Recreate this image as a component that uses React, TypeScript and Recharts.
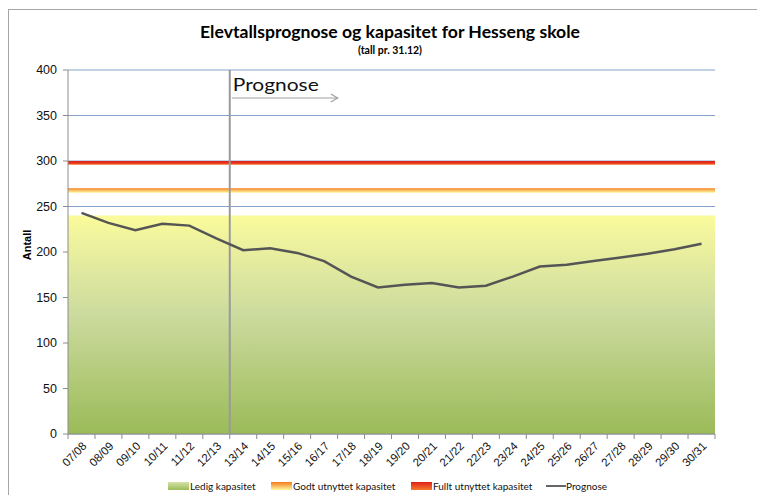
import {
  ComposedChart,
  Line,
  XAxis,
  YAxis,
  CartesianGrid,
  ReferenceArea,
  ReferenceLine,
} from "recharts";

const schoolYears = [
  "07/08", "08/09", "09/10", "10/11", "11/12", "12/13", "13/14", "14/15",
  "15/16", "16/17", "17/18", "18/19", "19/20", "20/21", "21/22", "22/23",
  "23/24", "24/25", "25/26", "26/27", "27/28", "28/29", "29/30", "30/31",
];

const prognose = [
  243, 232, 224, 231, 229, 215, 202, 204, 199, 190, 173, 161,
  164, 166, 161, 163, 173, 184, 186, 190, 194, 198, 203, 209,
];

const yTicks = [0, 50, 100, 150, 200, 250, 300, 350, 400];

// capacity bands [from, to]
const ledigBand = [0, 240];
const godtBand = [265, 270];
const fulltBand = [296, 300];

// first forecast year, the line sits on its left edge
const prognoseStart = "13/14";

const data = schoolYears.map((year, i) => ({ year, prognose: prognose[i] }));

const W = 757;
const H = 495;
const plotLeft = 68;
const plotRight = 715;
const step = (plotRight - plotLeft) / schoolYears.length;

const axisFont = "'Liberation Sans', Arial, sans-serif";
const labelFont = "Lato, 'Open Sans', sans-serif";

function XTick({ x, y, payload, index }: any) {
  const axisY = y - 8;
  return (
    <g>
      <line x1={x - step / 2} x2={x - step / 2} y1={axisY} y2={axisY + 5} stroke="#8c8c8c" />
      {index === schoolYears.length - 1 ? (
        <line x1={x + step / 2} x2={x + step / 2} y1={axisY} y2={axisY + 5} stroke="#8c8c8c" />
      ) : null}
      <text
        x={0}
        y={0}
        transform={`translate(${x + 3},${y + 2}) rotate(-45)`}
        textAnchor="end"
        dominantBaseline="central"
        fontSize={11.5}
        fontFamily={axisFont}
        fill="#111"
      >
        {payload.value}
      </text>
    </g>
  );
}

function PrognoseLabel({ viewBox }: any) {
  const { x, y } = viewBox;
  const ay = y + 28;
  return (
    <g>
      <text
        x={x + 3}
        y={y + 21}
        fontSize={18}
        fontFamily={labelFont}
        fill="#111"
        textLength={86}
        lengthAdjust="spacingAndGlyphs"
      >
        Prognose
      </text>
      <line x1={x + 2} x2={x + 108} y1={ay} y2={ay} stroke="#a0a0a0" strokeWidth={1.2} />
      <polyline
        points={`${x + 101},${ay - 4} ${x + 108},${ay} ${x + 101},${ay + 4}`}
        fill="none"
        stroke="#a0a0a0"
        strokeWidth={1.2}
      />
    </g>
  );
}

const legendItems = [
  { label: "Ledig kapasitet", x: 168, fill: "url(#legLedig)" },
  { label: "Godt utnyttet kapasitet", x: 271, fill: "url(#legGodt)" },
  { label: "Fullt utnyttet kapasitet", x: 411, fill: "url(#legFullt)" },
];

export default function App() {
  return (
    <div style={{ position: "absolute", left: 0, top: 0, width: W, height: H, background: "#fff", overflow: "hidden" }}>
      <ComposedChart
        width={W}
        height={H}
        data={data}
        margin={{ top: 70, right: W - plotRight, bottom: 16, left: 8 }}
      >
        <defs>
          <linearGradient id="ledig" x1="0" y1="0" x2="0" y2="1">
            <stop offset="0" stopColor="#FBFB9A" />
            <stop offset="0.12" stopColor="#EEF29F" />
            <stop offset="0.45" stopColor="#CCDB9E" />
            <stop offset="1" stopColor="#9BBB59" />
          </linearGradient>
          <linearGradient id="godt" x1="0" y1="0" x2="0" y2="1">
            <stop offset="0" stopColor="#F47B20" />
            <stop offset="0.45" stopColor="#F9C060" />
            <stop offset="1" stopColor="#FFF6A0" />
          </linearGradient>
          <linearGradient id="fullt" x1="0" y1="0" x2="0" y2="1">
            <stop offset="0" stopColor="#E0201A" />
            <stop offset="0.6" stopColor="#E8341C" />
            <stop offset="1" stopColor="#F47C2C" />
          </linearGradient>
        </defs>

        <CartesianGrid vertical={false} stroke="#86A2CA" strokeWidth={1} />

        <ReferenceArea y1={ledigBand[0]} y2={ledigBand[1]} fill="url(#ledig)" fillOpacity={1} stroke="none" />
        <ReferenceArea y1={godtBand[0]} y2={godtBand[1]} fill="url(#godt)" fillOpacity={1} stroke="none" />
        <ReferenceArea y1={fulltBand[0]} y2={fulltBand[1]} fill="url(#fullt)" fillOpacity={1} stroke="none" />

        <XAxis
          dataKey="year"
          scale="band"
          height={45}
          interval={0}
          tickLine={false}
          axisLine={{ stroke: "#8c8c8c" }}
          tick={<XTick />}
        />
        <YAxis
          width={60}
          domain={[0, 400]}
          ticks={yTicks}
          interval={0}
          tickSize={5}
          tickLine={{ stroke: "#8c8c8c" }}
          axisLine={{ stroke: "#8c8c8c" }}
          tick={{ fontSize: 12.5, fontFamily: axisFont, fill: "#111" }}
          tickMargin={6}
        />

        <ReferenceLine
          x={prognoseStart}
          position="start"
          stroke="#9a9a9a"
          strokeWidth={2}
          label={<PrognoseLabel />}
        />

        <Line
          dataKey="prognose"
          stroke="#555555"
          strokeWidth={2.5}
          dot={false}
          isAnimationActive={false}
        />
      </ComposedChart>

      <svg
        width={W}
        height={H}
        style={{ position: "absolute", left: 0, top: 0, pointerEvents: "none" }}
      >
        <defs>
          <linearGradient id="legLedig" x1="0" y1="0" x2="0" y2="1">
            <stop offset="0" stopColor="#D6E2A8" />
            <stop offset="1" stopColor="#9BBB59" />
          </linearGradient>
          <linearGradient id="legGodt" x1="0" y1="0" x2="0" y2="1">
            <stop offset="0" stopColor="#F47B20" />
            <stop offset="1" stopColor="#FFF6A0" />
          </linearGradient>
          <linearGradient id="legFullt" x1="0" y1="0" x2="0" y2="1">
            <stop offset="0" stopColor="#E0201A" />
            <stop offset="1" stopColor="#F47C2C" />
          </linearGradient>
        </defs>
        <rect x={8.5} y={9.5} width={W + 10} height={H + 10} fill="none" stroke="#a6a6a6" />
        <text
          x={390}
          y={38}
          textAnchor="middle"
          fontSize={17}
          fontWeight={700}
          fontFamily={labelFont}
          fill="#000"
          textLength={380}
          lengthAdjust="spacingAndGlyphs"
        >
          Elevtallsprognose og kapasitet for Hesseng skole
        </text>
        <text x={390} y={54} textAnchor="middle" fontSize={10.5} fontWeight={700} fontFamily={labelFont} fill="#000">
          (tall pr. 31.12)
        </text>
        <text
          x={0}
          y={0}
          transform="translate(31,245) rotate(-90)"
          textAnchor="middle"
          fontSize={11}
          fontWeight={700}
          fontFamily={axisFont}
          fill="#000"
        >
          Antall
        </text>
        {legendItems.map((item) => (
          <g key={item.label}>
            <rect x={item.x} y={482} width={21} height={8} fill={item.fill} />
            <text x={item.x + 22} y={489.5} fontSize={10} fontFamily={labelFont} fill="#111">
              {item.label}
            </text>
          </g>
        ))}
        <line x1={546} x2={566} y1={486} y2={486} stroke="#666" strokeWidth={2} />
        <text x={566} y={489.5} fontSize={10} fontFamily={labelFont} fill="#111">
          Prognose
        </text>
      </svg>
    </div>
  );
}
